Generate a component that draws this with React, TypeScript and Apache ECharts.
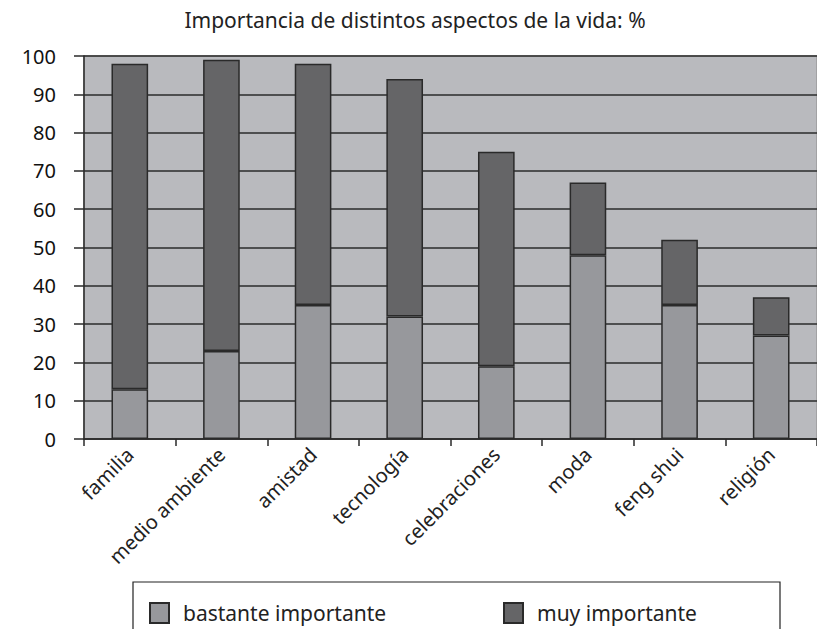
import React, { useEffect, useRef } from "react";
import * as echarts from "echarts";

const categories = ["familia", "medio ambiente", "amistad", "tecnología", "celebraciones", "moda", "feng shui", "religión"];
const bastante = [13, 23, 35, 32, 19, 48, 35, 27];
const muy = [85, 76, 63, 62, 56, 19, 17, 10];
const seriesNames = ["bastante importante", "muy importante"];
const yTicks = { min: 0, max: 100, interval: 10 };
const title = "Importancia de distintos aspectos de la vida: %";

const FONT = "'Noto Sans', 'Open Sans', sans-serif";

export default function App() {
  const ref = useRef<HTMLDivElement>(null);
  useEffect(() => {
    if (!ref.current) return;
    const chart = echarts.init(ref.current, null, { renderer: "svg" });
    const legendCommon = {
      top: 597,
      itemWidth: 19,
      itemHeight: 20,
      icon: "rect",
      textStyle: { fontFamily: FONT, fontSize: 21, color: "#222", padding: [0, 0, 0, 9] },
    };
    chart.setOption({
      animation: false,
      backgroundColor: "#ffffff",
      textStyle: { fontFamily: FONT },
      title: {
        text: title,
        left: 410,
        textAlign: "center",
        top: 4,
        textStyle: { fontFamily: FONT, fontSize: 21, fontWeight: "normal", color: "#222" },
      },
      grid: {
        left: 84,
        top: 56,
        width: 750,
        height: 383,
        show: true,
        backgroundColor: "#b9babe",
        borderColor: "#9a9a9c",
        borderWidth: 1.5,
        containLabel: false,
      },
      legend: [
        { ...legendCommon, data: [seriesNames[0]], left: 144 },
        { ...legendCommon, data: [seriesNames[1]], left: 498 },
      ],
      graphic: [
        {
          type: "rect",
          shape: { x: 133, y: 582, width: 647, height: 70 },
          style: { fill: "none", stroke: "#222", lineWidth: 1.2 },
          z: -1,
        },
      ],
      xAxis: {
        type: "category",
        data: categories,
        axisLine: { lineStyle: { color: "#2a2a2a", width: 1.5 } },
        axisTick: { show: true, length: 7, lineStyle: { color: "#2a2a2a", width: 1.5 } },
        axisLabel: { rotate: 45, fontSize: 20, color: "#222", margin: 12, fontFamily: FONT },
      },
      yAxis: {
        type: "value",
        min: yTicks.min,
        max: yTicks.max,
        interval: yTicks.interval,
        axisLine: { show: true, lineStyle: { color: "#2a2a2a", width: 1.5 } },
        axisTick: { show: true, length: 10, lineStyle: { color: "#2a2a2a", width: 1.5 } },
        axisLabel: { fontSize: 20, color: "#111", margin: 28, fontFamily: FONT },
        splitLine: { show: true, lineStyle: { color: "#2b2b2b", width: 1.5 } },
      },
      series: [
        {
          name: seriesNames[0],
          type: "bar",
          stack: "total",
          data: bastante,
          barWidth: "40%",
          itemStyle: { color: "#97989c", borderColor: "#2a2a2a", borderWidth: 1.5 },
        },
        {
          name: seriesNames[1],
          type: "bar",
          stack: "total",
          data: muy,
          barWidth: "40%",
          itemStyle: { color: "#656567", borderColor: "#2a2a2a", borderWidth: 1.5 },
        },
      ],
    });
    return () => chart.dispose();
  }, []);
  return (
    <div
      ref={ref}
      style={{ position: "absolute", left: 0, top: 0, width: 817, height: 629 }}
    />
  );
}
